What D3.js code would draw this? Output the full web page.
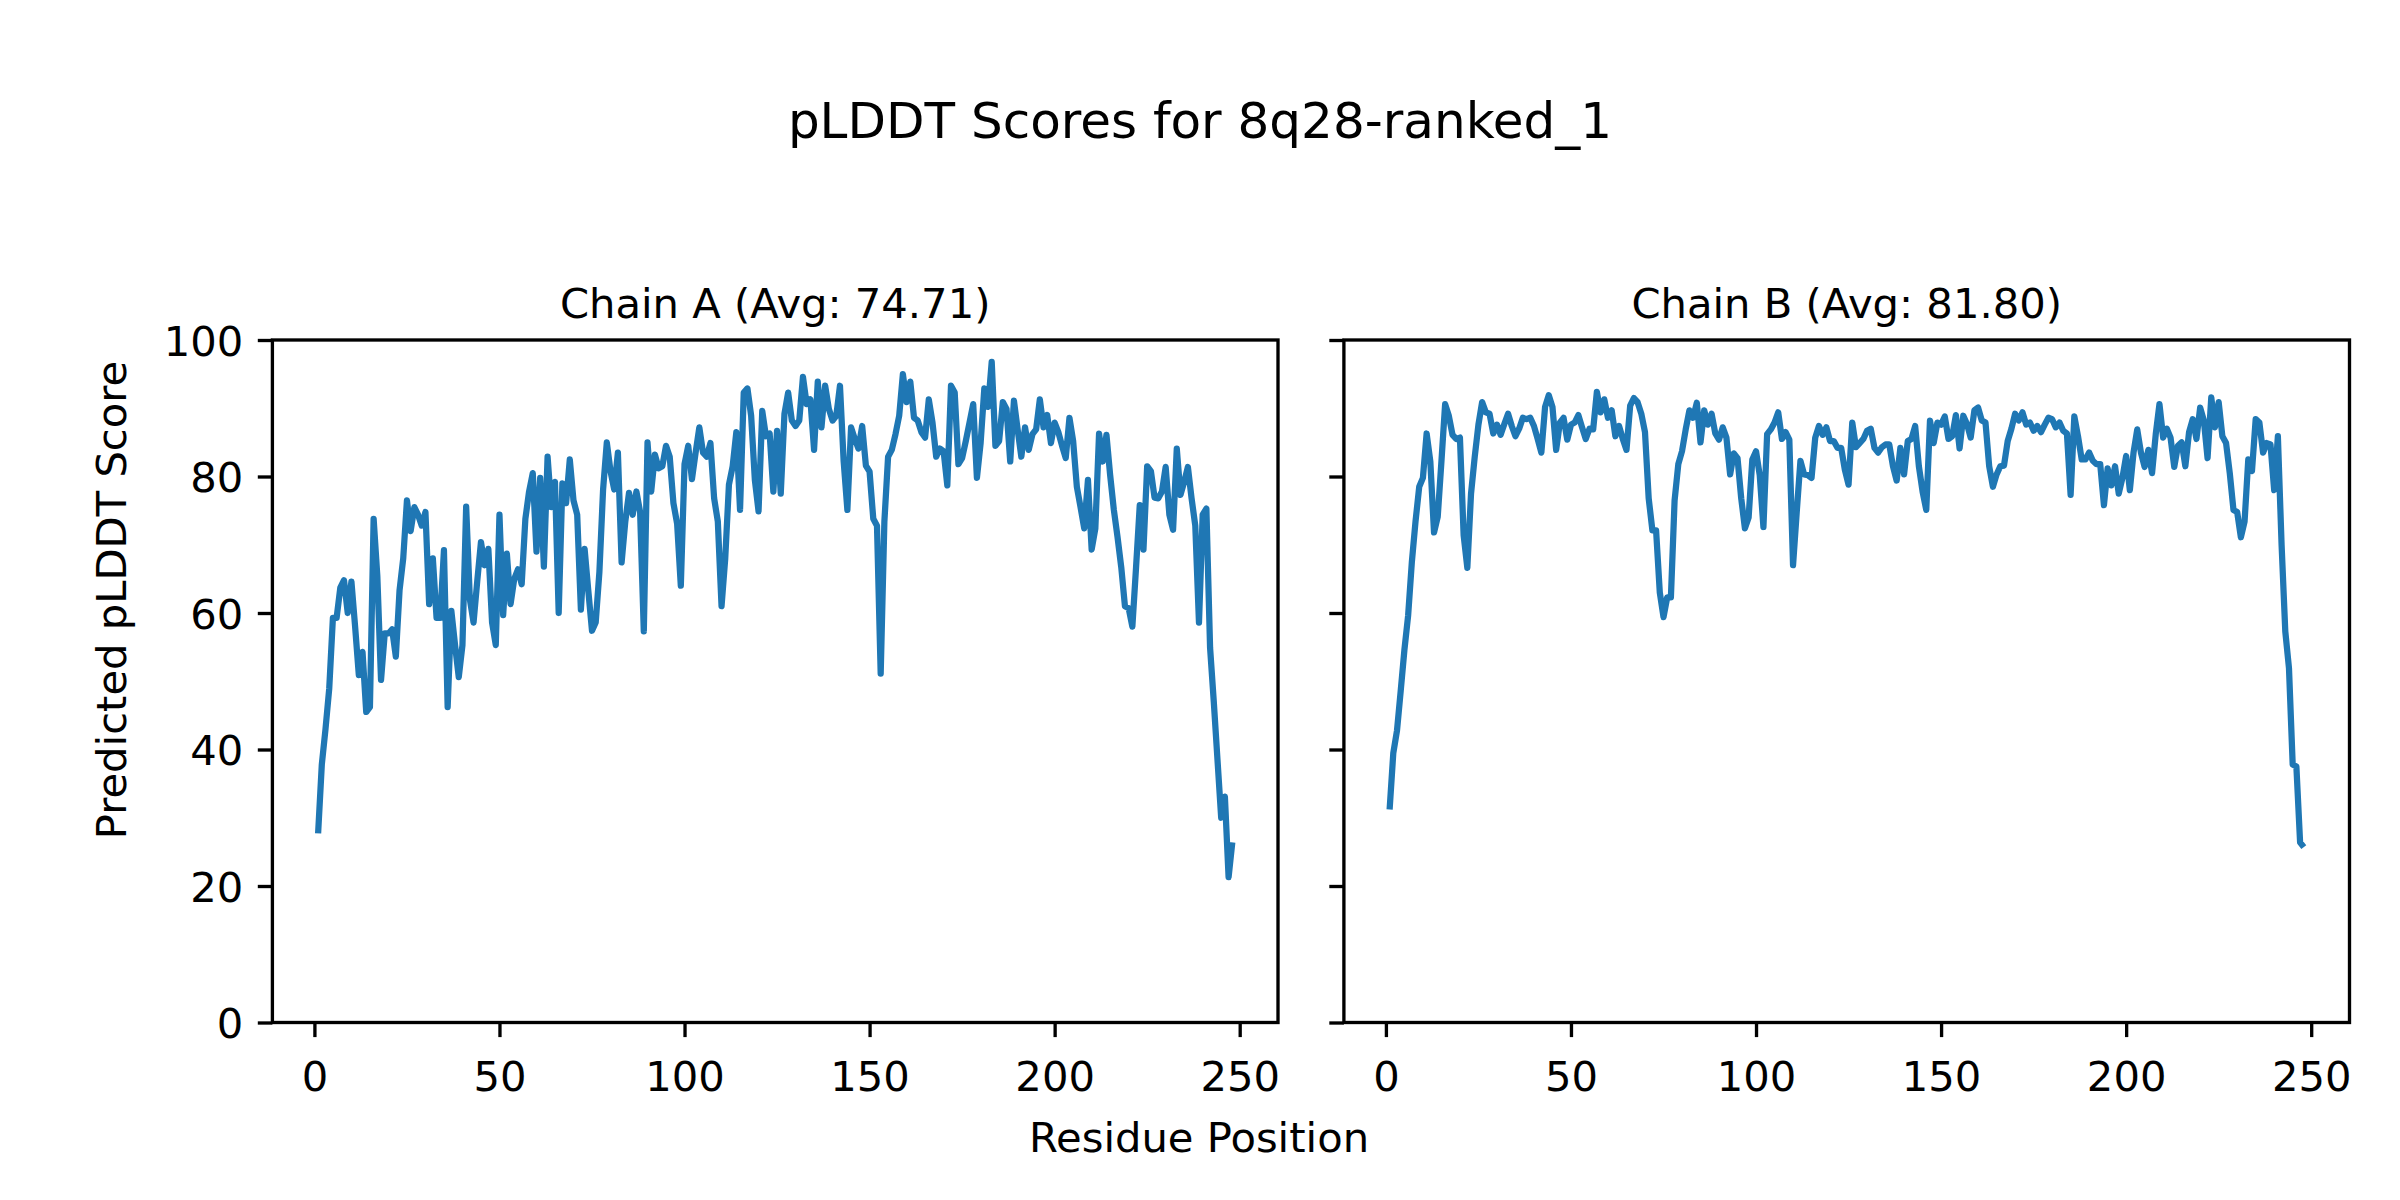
<!DOCTYPE html>
<html>
<head>
    <title>pLDDT Scores</title>
    <script src="https://d3js.org/d3.v7.min.js"></script>
    <style>
        body { margin: 0; background: white; }
        svg text { font-family: "DejaVu Sans", sans-serif; fill: black; }
    </style>
</head>
<body>
    <svg id="chart" width="2400" height="1200"></svg>

    <script>
        // values, residues 1..248
        var chainA = [27.7, 37.8, 43, 48.9, 59.3, 59.3, 63.7, 64.8, 60, 64.6,
            58, 50.9, 54.3, 45.5, 46.2, 73.8, 65.4, 50.2, 57, 57,
            57.6, 53.6, 63.3, 68, 76.5, 72, 75.5, 74.4, 72.8, 74.8,
            61.3, 68, 59.3, 59.3, 69.2, 46.2, 60.3, 55.3, 50.6, 55.3,
            75.6, 62, 58.6, 64.7, 70.4, 67, 69.4, 58.6, 55.3, 74.4,
            59.7, 68.7, 61.3, 65, 66.4, 64.2, 73.8, 77.8, 80.5, 69,
            79.8, 66.8, 82.9, 75.5, 79.2, 60, 79, 76.1, 82.5, 76.5,
            74.4, 60.5, 69.4, 63.3, 57.4, 58.6, 66, 78.1, 85, 80.8,
            78.1, 83.5, 67.4, 73.4, 77.6, 74.4, 77.8, 74.8, 57.3, 85,
            77.8, 83.2, 81.2, 81.5, 84.5, 82.9, 76.1, 73.1, 64, 81.8,
            84.5, 79.6, 83.5, 87.2, 83.5, 82.9, 84.9, 76.8, 73.4, 61,
            68, 78.8, 81.5, 86.5, 75.1, 92.3, 92.9, 88.9, 79.5, 74.9,
            89.6, 85.9, 86.3, 77.8, 86.7, 77.5, 89.2, 92.3, 88.2, 87.4,
            88.2, 94.6, 90.6, 91.3, 83.9, 93.9, 87.2, 93.3, 89.9, 88.2,
            88.9, 93.3, 82.2, 75.1, 87.2, 85.5, 84.1, 87.4, 81.6, 80.7,
            73.8, 72.8, 51.1, 73.4, 82.9, 83.9, 86.2, 88.9, 95, 90.9,
            93.9, 88.6, 88.2, 86.5, 85.7, 91.3, 87.9, 82.9, 84.1, 83.7,
            78.7, 93.3, 92.3, 81.8, 82.7, 85.2, 87.9, 90.6, 79.8, 84.9,
            92.9, 90.2, 96.8, 84.5, 85.2, 90.9, 89.9, 82.2, 91.1, 86.9,
            82.9, 87.2, 83.9, 86.2, 86.9, 91.3, 87.2, 89, 84.9, 87.9,
            86.5, 84.5, 82.7, 88.6, 85.2, 78.5, 75.5, 72.4, 79.5, 69.3,
            72.4, 86.3, 82.2, 86.1, 80.2, 75.1, 71.1, 66.7, 61, 60.7,
            58, 66.7, 75.8, 69.3, 81.5, 80.8, 76.9, 76.8, 77.8, 81.4,
            74.4, 72.2, 84.1, 77.3, 79.2, 81.4, 76.8, 72.8, 58.6, 74.4,
            75.3, 54.9, 47, 38.5, 30, 33.1, 21.3, 26.4]

        var chainB = [31.2, 39.5, 42.8, 48.6, 54.6, 59.6, 67.4, 73.4, 78.5, 79.8,
            86.3, 82.2, 71.8, 74.1, 82.2, 90.6, 88.9, 86.1, 85.5, 85.7,
            71.4, 66.6, 77.5, 82.9, 87.6, 90.9, 89.4, 89.2, 86.3, 87.6,
            86.1, 87.7, 89.2, 87.4, 85.9, 87, 88.6, 88.4, 88.6, 87.4,
            85.5, 83.5, 90.2, 91.9, 90.2, 83.9, 87.9, 88.6, 85.4, 87.6,
            87.9, 89, 87.2, 85.5, 87, 86.9, 92.4, 89.4, 91.3, 88.6,
            89.7, 85.9, 87.4, 85.5, 83.9, 90.4, 91.5, 90.9, 89.2, 86.5,
            76.8, 72.1, 72.1, 63, 59.4, 62.3, 62.3, 76.5, 81.8, 83.7,
            86.9, 89.7, 88.6, 90.8, 85, 89.7, 87.6, 89.2, 86.3, 85.4,
            87.2, 85.7, 80.3, 83.4, 82.7, 76.8, 72.4, 74, 82.5, 83.7,
            80.2, 72.6, 86.2, 86.9, 87.9, 89.4, 85.5, 86.5, 85.4, 67,
            74.8, 82.3, 80.3, 80.2, 79.8, 85.7, 87.4, 86.1, 87.2, 85.2,
            85.2, 84.2, 84.2, 81, 78.8, 87.9, 84.3, 84.9, 85.5, 86.7,
            87, 84.2, 83.5, 84.3, 84.7, 84.7, 81.5, 79.4, 84.2, 80.3,
            85.2, 85.5, 87.4, 81.5, 77.8, 75.1, 88.2, 84.9, 87.9, 87.6,
            88.8, 85.5, 85.9, 89, 84.1, 88.9, 87.7, 85.7, 89.7, 90.1,
            88.2, 87.9, 81.5, 78.5, 80.3, 81.5, 81.6, 85.2, 87, 89.2,
            88.2, 89.4, 87.6, 87.9, 86.7, 87.4, 86.5, 87.6, 88.6, 88.4,
            87.2, 87.9, 86.7, 86.3, 77.3, 88.8, 85.9, 82.5, 82.5, 83.5,
            82.3, 81.8, 81.8, 75.8, 81.2, 78.7, 81.5, 77.5, 79.8, 83,
            78, 83.5, 86.9, 83.5, 81.4, 83.9, 80.5, 86.2, 90.6, 85.7,
            87, 85.7, 81.4, 84.5, 85, 81.5, 86.5, 88.4, 85.5, 90.1,
            88.2, 82.7, 91.6, 87.2, 90.9, 85.9, 84.9, 80.5, 75.1, 74.8,
            71.1, 73.4, 82.5, 80.8, 88.4, 87.9, 83.5, 84.9, 84.7, 78,
            85.9, 70, 57.3, 51.9, 37.8, 37.5, 26.4, 25.7]

        var panelTitles = ["Chain A (Avg: 74.71)", "Chain B (Avg: 81.80)"]
        var xTicks = [0, 50, 100, 150, 200, 250]
        var yTicks = [0, 20, 40, 60, 80, 100]
        var mainTitle = "pLDDT Scores for 8q28-ranked_1"

        var svg = d3.select("#chart")
        var axTop = 340, axBottom = 1022.5, axW = 1005.6
        var lefts = [272.4, 1343.9]
        var tick = 14.6, lw = 3.33, fs = 41.7

        var series = [chainA, chainB]
        var n = chainA.length
        var pad = 0.05 * (n - 1)

        var y = d3.scaleLinear([0, 100], [axBottom, axTop])

        series.forEach(function (vals, k) {
            var x = d3.scaleLinear([1 - pad, n + pad], [lefts[k], lefts[k] + axW])
            var g = svg.append("g")

            var line = d3.line()
                .x((d, i) => x(i + 1))
                .y(d => y(d))

            g.append("path")
                .datum(vals)
                .attr("d", line)
                .attr("fill", "none")
                .attr("stroke", "#1f77b4")
                .attr("stroke-width", 6.25)
                .attr("stroke-linejoin", "round")
                .attr("stroke-linecap", "butt")

            // frame
            g.append("rect")
                .attr("x", lefts[k]).attr("y", axTop)
                .attr("width", axW).attr("height", axBottom - axTop)
                .attr("fill", "none").attr("stroke", "black")
                .attr("stroke-width", lw)

            var xAxis = d3.axisBottom(x).tickValues(xTicks)
                .tickSize(tick).tickSizeOuter(0)
            var gx = g.append("g").attr("transform", "translate(0," + axBottom + ")").call(xAxis)
            gx.select(".domain").remove()
            gx.selectAll("line").attr("stroke-width", lw).attr("stroke", "black")
            gx.selectAll("text")
                .attr("y", 68.5).attr("dy", 0)
                .style("font-size", fs + "px")
                .style("font-family", "DejaVu Sans")
                .attr("fill", "black")

            var yAxis = d3.axisLeft(y).tickValues(yTicks)
                .tickSize(tick).tickSizeOuter(0).tickPadding(14.6)
            if (k == 1) yAxis.tickFormat("")
            var gy = g.append("g").attr("transform", "translate(" + lefts[k] + ",0)").call(yAxis)
            gy.select(".domain").remove()
            gy.selectAll("line").attr("stroke-width", lw).attr("stroke", "black")
            gy.selectAll("text")
                .attr("dy", 0).attr("y", 15.2)
                .style("font-size", fs + "px")
                .style("font-family", "DejaVu Sans")
                .attr("fill", "black")

            g.append("text")
                .attr("x", lefts[k] + axW / 2).attr("y", 318)
                .attr("text-anchor", "middle")
                .style("font-size", fs + "px")
                .text(panelTitles[k])
        })

        svg.append("text")
            .attr("x", 1200).attr("y", 138)
            .attr("text-anchor", "middle")
            .style("font-size", "50px")
            .text(mainTitle)

        svg.append("text")
            .attr("x", 1199).attr("y", 1152)
            .attr("text-anchor", "middle")
            .style("font-size", fs + "px")
            .text("Residue Position")

        svg.append("text")
            .attr("transform", "translate(126,600) rotate(-90)")
            .attr("text-anchor", "middle")
            .style("font-size", fs + "px")
            .text("Predicted pLDDT Score")
    </script>
</body>
</html>
